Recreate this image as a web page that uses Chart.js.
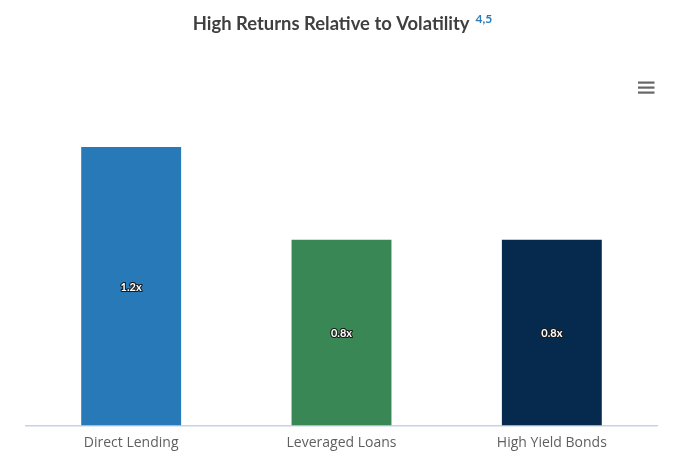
<!DOCTYPE html>
<html>
<head>
<meta charset="utf-8">
<script src="https://cdn.jsdelivr.net/npm/chart.js@4.4.0/dist/chart.umd.min.js"></script>
<style>
  html, body { margin: 0; padding: 0; background: #ffffff; }
  #wrap { position: relative; width: 678px; height: 462px; }
</style>
</head>
<body>
<div id="wrap"><canvas id="c" width="678" height="462"></canvas></div>
<script>
const categories = ["Direct Lending", "Leveraged Loans", "High Yield Bonds"];
const values = [1.2, 0.8, 0.8];
const valueLabels = ["1.2x", "0.8x", "0.8x"];
const barColors = ["#2779b7", "#388755", "#06294e"];
const titleText = "High Returns Relative to Volatility";
const titleSup = "4,5";

const FONT = "Lato, 'Open Sans', sans-serif";
const LABEL_FONT = "'Open Sans', Lato, sans-serif";

const titlePlugin = {
  id: 'titlePlugin',
  afterDraw(chart) {
    const ctx = chart.ctx;
    ctx.save();
    let size = 17;
    ctx.font = `bold ${size}px ${FONT}`;
    const w0 = ctx.measureText(titleText).width;
    size = Math.max(14, Math.min(20, size * 277 / w0));
    ctx.font = `bold ${size}px ${FONT}`;
    const w = ctx.measureText(titleText).width;
    ctx.font = `bold 12px ${FONT}`;
    const sw = ctx.measureText(titleSup).width;
    const gap = 6;
    const total = w + gap + sw;
    const x0 = 342.5 - total / 2;
    ctx.textBaseline = 'alphabetic';
    ctx.textAlign = 'left';
    ctx.fillStyle = '#3f3f3f';
    ctx.font = `bold ${size}px ${FONT}`;
    ctx.fillText(titleText, x0, 29.5);
    ctx.fillStyle = '#2b7bb9';
    ctx.font = `bold 12px ${FONT}`;
    ctx.fillText(titleSup, x0 + w + gap, 23);
    ctx.fillStyle = '#666666';
    [81.5, 86.5, 91.5].forEach(y => ctx.fillRect(638, y, 16.5, 2.2));
    ctx.restore();
  }
};

const labelPlugin = {
  id: 'labelPlugin',
  afterDatasetsDraw(chart) {
    const ctx = chart.ctx;
    const meta = chart.getDatasetMeta(0);
    ctx.save();
    ctx.font = `bold 11px ${FONT}`;
    ctx.textAlign = 'center';
    ctx.textBaseline = 'middle';
    ctx.lineJoin = 'round';
    meta.data.forEach((bar, i) => {
      const x = bar.x;
      const y = (bar.y + bar.base) / 2 + 1;
      ctx.lineWidth = 2.2;
      ctx.strokeStyle = '#1a1a1a';
      ctx.strokeText(valueLabels[i], x, y);
      ctx.fillStyle = '#ffffff';
      ctx.fillText(valueLabels[i], x, y);
    });
    ctx.restore();
  }
};

new Chart(document.getElementById('c'), {
  type: 'bar',
  data: {
    labels: categories,
    datasets: [{
      data: values,
      backgroundColor: barColors,
      borderWidth: 0,
      barPercentage: 0.475,
      categoryPercentage: 1.0
    }]
  },
  options: {
    responsive: false,
    animation: false,
    devicePixelRatio: 1,
    layout: { padding: { left: 26, right: 21, top: 100.5, bottom: 0 } },
    plugins: {
      legend: { display: false },
      tooltip: { enabled: false },
      title: { display: false }
    },
    scales: {
      x: {
        grid: { display: false, drawTicks: false },
        border: { display: true, color: '#c6d2ea', width: 1.5 },
        ticks: { color: '#5f5f5f', font: { family: LABEL_FONT, size: 14 }, padding: 9.5 },
        afterFit(scale) { scale.height = 36.5; }
      },
      y: {
        display: false,
        min: 0,
        max: 1.4
      }
    }
  },
  plugins: [titlePlugin, labelPlugin]
});
</script>
</body>
</html>
